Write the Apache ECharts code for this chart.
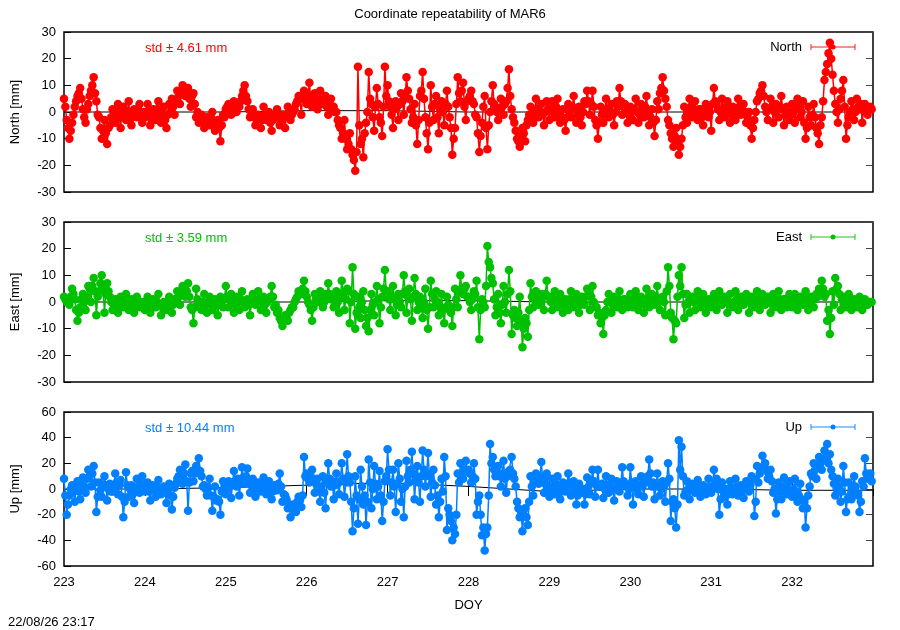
<!DOCTYPE html>
<html><head><meta charset="utf-8">
<script src="https://cdn.jsdelivr.net/npm/echarts@6/dist/echarts.min.js"></script>
<style>html,body{margin:0;padding:0;background:#fff}#c{width:900px;height:630px}</style>
</head><body><div id="c"></div><script>
// ---- data (mm). "A" samples at DOY 223 + i/30, "B" samples half a step later ----
const DAY_START = 223;
const SAMPLES_PER_DAY = 30;
const xTickLabels = ['223','224','225','226','227','228','229','230','231','232'];

const northValues = [
 5,-3,-10,-4,2,6,9,1,-4,3,8,13,4,-2,-10,-3,-12,-5,1,-4,3,-6,2,-3,4,-5,1,-2,3,-4,
 -2,3,-5,1,-3,4,-4,2,-6,3,5,-1,8,3,10,6,9,2,7,-2,-4,-1,-6,-2,-5,0,-7,-3,-11,-1,
 1,3,-1,4,0,2,6,10,4,-2,1,-5,-1,-6,2,-3,0,-7,-2,1,-5,-1,-6,2,-3,0,3,6,-1,8,
 3,11,2,7,1,8,3,6,-1,5,2,0,-5,-10,-3,-14,-8,-16,-22,17,-12,-17,-4,15,3,-7,9,-2,-9,17,
 10,2,-6,4,-3,7,-1,13,5,-4,3,-12,6,15,-2,-14,10,-3,6,-8,4,-5,8,-2,-16,-6,13,4,11,-3,
 5,8,3,-2,-15,-4,6,-14,0,10,2,-3,5,-1,4,16,1,-4,-10,-13,-6,-11,-3,2,-4,5,-2,3,-5,4,
 -3,4,-2,5,-4,1,-7,3,-2,6,-4,2,-5,4,8,-1,8,-3,-10,2,-4,5,-2,3,-5,4,9,-1,3,-4,
 2,-3,5,-4,3,-2,6,-5,1,-9,4,7,13,5,-3,-8,-13,-6,-16,-10,2,-4,5,-2,4,-3,1,-5,3,-2,
 -7,9,3,-3,5,-2,4,-4,2,-3,5,-1,3,-4,0,-10,-3,4,7,10,2,-3,5,-4,3,-2,6,-5,2,-3,
 3,-4,5,-2,4,-10,2,-5,3,-6,-12,-2,12,18,26,14,3,-4,5,12,-10,-2,4,-3,5,1,-4,3,-1,2
];
const northValuesB = [
 2,-6,-7,-1,4,7,5,-2,1,6,10,7,-1,-6,-7,-8,-6,-2,-1,0,-2,1,-1,0,-3,-1,0,1,-2,0,
 0,-1,-3,-1,1,-2,0,-3,-1,0,2,4,6,7,8,7,5,6,3,0,-2,-3,-4,-3,-2,-5,-4,-6,-5,-2,
 2,1,2,0,3,4,8,6,1,-1,-2,-3,-2,-3,-1,-2,-4,-3,-1,-2,-3,-2,-1,0,-1,1,4,5,6,5,
 6,5,4,5,4,3,5,2,3,1,0,-3,-6,-8,-10,-12,-14,-18,-15,-5,-10,-8,0,5,-2,2,3,-4,2,6,
 4,-1,1,2,3,4,6,8,1,-2,-5,-3,8,5,-8,-4,2,3,-2,1,0,3,2,-6,-10,3,7,8,2,4,
 6,4,-1,-8,-9,2,-6,-5,4,3,0,1,2,3,9,6,-2,-7,-11,-9,-8,-5,-1,-2,0,1,0,-1,0,1,
 1,0,2,-1,-2,-3,-2,0,2,1,-1,-2,0,3,4,3,2,-5,-4,-1,0,1,0,-1,0,2,4,3,0,-1,
 0,1,0,-1,1,2,0,-2,-4,-3,1,9,8,2,-5,-10,-9,-12,-13,-5,-2,0,2,1,0,1,-2,0,1,0,
 3,4,1,0,1,2,0,-1,0,1,2,1,0,-2,-5,-6,0,5,8,6,0,1,2,0,1,2,1,-1,0,-1,
 0,1,2,0,-4,-6,-2,-1,-2,-8,-5,4,15,22,20,8,0,1,8,2,-5,0,1,0,2,3,1,0,1,1
];
const eastValues = [
 2,0,-1,5,1,-7,-2,3,-3,6,0,9,-5,4,10,-4,7,2,-3,1,-4,2,-2,3,-3,1,-4,2,-2,0,
 -3,2,-4,1,-2,3,-5,0,-3,2,-4,1,4,-1,6,2,7,-2,-8,5,0,-3,3,-4,2,-3,1,-5,2,-2,
 6,-2,3,-4,2,-3,4,-2,1,-5,3,-1,4,-3,2,-4,1,6,-2,-4,-6,-9,-5,-7,-3,-2,1,4,3,8,
 2,-1,-7,3,0,4,-2,3,7,1,-2,4,-4,8,-3,5,-8,13,-10,2,-6,4,-9,-11,3,-5,6,-8,2,12,
 4,-3,6,-5,3,-2,10,-4,5,-7,9,-3,2,-6,5,-10,8,-2,4,-5,3,-8,2,-3,-9,5,-2,10,3,6,
 2,-3,4,8,-14,1,-2,21,13,7,-5,3,-8,6,-4,12,-12,-3,-9,2,-17,-6,-13,7,-2,4,-1,3,-3,8,
 2,-3,4,-2,3,-4,1,-3,4,-2,3,-4,2,-1,5,-3,6,-2,-5,-8,-12,-3,3,-4,2,-2,4,-3,1,-2,
 3,-2,4,-3,2,-4,5,-2,3,-1,6,-3,2,-5,13,-4,-14,-8,10,13,-6,3,-4,2,-3,4,-2,3,-4,1,
 -2,3,-3,4,-1,2,-4,3,-2,4,-3,2,-1,3,-4,2,-2,4,-3,3,-1,2,-4,3,-2,4,-3,1,-2,3,
 -2,3,-3,2,-1,4,-3,2,-2,3,5,8,2,-7,-12,4,9,6,-3,2,-2,3,-3,1,-2,2,-3,1,-1,0
];
const eastValuesB = [
 1,1,2,3,-3,-4,1,0,2,5,6,4,2,7,5,3,4,0,-1,-1,-1,0,0,-1,0,-1,-1,0,-1,-1,
 -1,-1,0,-1,0,-1,-2,-1,0,-1,-1,1,2,3,4,4,2,-3,-2,1,0,0,-1,0,-1,0,-1,0,0,1,
 2,1,0,-1,0,1,0,-1,-1,0,1,0,1,0,-1,0,2,2,-1,-3,-7,-7,-6,-4,-2,0,2,3,5,4,
 0,-3,-2,1,2,1,0,2,3,1,1,0,2,3,1,4,0,3,-4,-2,0,-3,-6,-3,-1,0,1,-2,5,4,
 1,2,1,-1,0,3,4,2,1,2,3,0,-2,0,-3,-2,3,1,0,-2,-3,-2,-1,-4,-2,1,4,5,5,2,
 0,1,3,-2,-3,0,6,15,9,1,-2,-4,-1,0,3,4,-5,-6,-4,-7,-10,-8,-3,2,1,1,0,2,3,2,
 0,1,0,1,0,-1,0,1,0,1,0,-1,0,2,3,2,0,-2,-4,-6,-5,0,0,-1,0,1,0,1,0,0,
 0,1,0,-1,1,0,1,2,1,2,0,1,0,4,6,-6,-7,2,6,3,-1,0,1,0,1,0,1,0,-1,0,
 0,1,0,1,0,1,0,-1,0,1,0,1,0,1,0,1,0,1,0,1,0,1,0,1,0,1,0,1,0,1,
 0,1,0,1,0,1,0,1,1,2,4,5,3,-3,-6,-1,5,3,1,0,0,1,0,-1,0,1,0,-1,0,0
];
const upValues = [
 8,-20,-5,3,-10,6,-8,9,-3,15,2,18,-18,5,-6,10,-9,4,-2,12,-4,7,-22,13,-6,3,-11,8,-3,10,
 -2,5,-9,3,-6,7,-4,2,-11,4,-16,1,8,15,4,19,-17,12,6,18,24,10,3,-5,8,-17,2,-8,-20,6,
 -4,6,-7,14,2,-5,17,4,16,-3,8,-6,5,-2,9,-4,6,-8,3,-1,12,-10,-5,-15,-22,-12,-18,-6,-14,25,
 12,5,15,-3,8,-10,10,-15,20,2,-8,12,-4,20,-6,27,5,-33,10,-27,15,-12,-28,23,-15,18,-8,14,-25,6,
 31,-5,15,-18,20,-10,-22,22,5,29,-8,18,-10,30,2,28,-6,15,-12,-22,8,25,-32,-20,-40,-35,12,20,8,22,
 15,5,20,-20,-5,-36,-48,-30,35,25,10,18,2,22,-3,14,25,8,-10,-22,-33,-15,-28,10,-5,12,4,21,-3,12,
 -6,8,-4,10,-8,5,-2,12,-5,6,-12,4,-3,-12,9,-4,15,-6,15,2,-7,10,-3,8,-9,6,-2,17,4,-5,
 17,-12,6,-4,10,-6,8,23,2,-8,12,-5,6,-10,20,-25,-8,-30,38,33,-5,6,-8,4,-3,7,-6,3,-4,8,
 -3,15,8,-20,5,-6,-12,6,-4,8,-5,3,-7,6,-2,10,-21,18,12,26,20,8,15,-3,-19,5,-8,9,-4,6,
 -6,8,-10,4,-15,-30,-5,12,20,8,25,15,30,35,27,10,-5,8,-10,18,-18,5,-8,10,-3,-18,6,24,8,12
];
const upValuesB = [
 -5,-12,0,-2,2,-2,3,2,8,10,12,5,-6,-1,2,3,0,-2,2,5,3,-6,-10,3,0,-4,-2,2,4,3,
 1,-2,0,-1,1,0,-2,-3,-1,-5,-6,4,10,8,12,6,5,14,12,15,14,2,0,1,-5,-6,-9,-10,-2,2,
 0,2,5,6,8,4,9,10,6,3,1,2,0,3,2,1,0,-2,1,4,2,-4,-8,-12,-15,-16,-10,-9,-5,10,
 8,10,6,4,-2,2,-3,5,8,6,3,4,6,8,5,10,-10,-15,-5,-8,2,-5,-10,5,0,4,2,-5,-10,10,
 15,5,2,4,8,0,2,10,15,12,8,5,10,15,12,10,5,3,-5,-10,-2,10,-15,-25,-30,-20,5,10,15,14,
 12,10,8,-10,-20,-30,-35,-5,20,15,12,10,12,8,10,15,12,2,-15,-18,-20,-22,-10,2,5,8,10,8,4,2,
 0,2,3,0,-2,0,3,5,2,0,-5,-2,0,-4,2,5,6,3,2,4,0,3,2,1,0,2,4,6,2,0,
 5,2,0,3,2,5,10,12,5,2,3,0,2,5,8,-10,-15,-12,15,10,-2,0,1,-1,2,0,1,-1,0,1,
 2,5,0,-8,-2,0,-4,1,0,2,0,-1,0,2,3,8,-10,5,15,18,14,10,6,0,-8,-2,0,2,0,-1,
 0,-2,-5,-8,-10,-15,2,10,15,18,20,22,25,20,15,4,0,2,-2,5,-8,-5,0,2,-5,-10,2,12,10,6
];
// black reference (mean) line
const refDays  = [223,224,225,226,227,228,229,230,231,232,233];
const northRef = [0,0,0,0.5,0.5,0,0,0,0,0,0];
const eastRef  = [0,0,0,0,0.5,0.5,0,0,0,0,0];
const upRef    = [0,0,1,3,5,2,-2,0,0,-1,-1];

const panelNames = ['North','East','Up'];
const stdTexts = ['std \u00b1 4.61 mm','std \u00b1 3.59 mm','std \u00b1 10.44 mm'];
const yRanges = [[-30,30,10],[-30,30,10],[-60,60,20]];
// ---------------------------------------------------------------

const FONT = '"Liberation Sans", Arial, Helvetica, sans-serif';
const colors = ['#ff0000','#00c000','#0080ff'];
const lightColors = ['rgba(255,0,0,0.6)','rgba(0,192,0,0.6)','rgba(0,128,255,0.6)'];
const grids = [
  {left:64, top:32, width:809, height:160},
  {left:64, top:222, width:809, height:160},
  {left:64, top:412, width:809, height:154}
];
const allA = [northValues, eastValues, upValues];
const allB = [northValuesB, eastValuesB, upValuesB];
const allRefs = [northRef, eastRef, upRef];

function toPairs(a, b){
  const out = [];
  const step = 1/SAMPLES_PER_DAY;
  for (let i=0;i<a.length;i++){
    out.push([DAY_START + i*step, a[i]]);
    out.push([DAY_START + (i+0.5)*step, b[i]]);
  }
  return out;
}

const option = {
  animation:false,
  backgroundColor:'#fff',
  textStyle:{fontFamily:FONT},
  title:{text:'Coordinate repeatability of MAR6', left:'center', top:3,
    textStyle:{fontSize:13, fontWeight:'normal', color:'#000', fontFamily:FONT}},
  grid: grids.map(g=>Object.assign({show:true, borderColor:'#000', borderWidth:1.5, backgroundColor:'transparent'}, g)),
  xAxis: [],
  yAxis: [],
  series: [],
  graphic: []
};

for (let k=0;k<3;k++){
  option.xAxis.push({
    gridIndex:k, type:'value', min:223, max:233, interval:1,
    axisLine:{show:false},
    axisTick:{show:k===2, inside:true, length:7, lineStyle:{color:'#000'}},
    axisLabel:{show:k===2, showMaxLabel:false, fontSize:13, color:'#000', margin:10, fontFamily:FONT,
      formatter:(v)=>{const i=Math.round(v-223); return xTickLabels[i]!==undefined?xTickLabels[i]:'';}},
    splitLine:{show:false},
    name:k===2?'DOY':'', nameLocation:'middle', nameGap:33,
    nameTextStyle:{fontSize:13, color:'#000', fontFamily:FONT}
  });
}
option.xAxis.push({
  gridIndex:2, type:'value', position:'top', min:223, max:233, interval:1,
  axisLine:{show:false}, axisTick:{show:true, inside:true, length:7, lineStyle:{color:'#000'}},
  axisLabel:{show:false}, splitLine:{show:false}
});

for (let k=0;k<3;k++){
  const [mn,mx,iv] = yRanges[k];
  option.yAxis.push({
    gridIndex:k, type:'value', min:mn, max:mx, interval:iv,
    axisLine:{show:false},
    axisTick:{show:true, inside:true, length:7, lineStyle:{color:'#000'}},
    axisLabel:{fontSize:13, color:'#000', margin:8, fontFamily:FONT},
    splitLine:{show:false},
    name:panelNames[k]+' [mm]', nameLocation:'middle', nameGap:42, nameRotate:90,
    nameTextStyle:{fontSize:13, color:'#000', fontFamily:FONT}
  });
  option.yAxis.push({
    gridIndex:k, type:'value', position:'right', min:mn, max:mx, interval:iv,
    axisLine:{show:false},
    axisTick:{show:true, inside:true, length:7, lineStyle:{color:'#444'}},
    axisLabel:{show:false}, splitLine:{show:false}
  });

  option.series.push({
    type:'line', xAxisIndex:k, yAxisIndex:2*k, z:1,
    data: refDays.map((d,i)=>[d, allRefs[k][i]]),
    symbol:'none', lineStyle:{color:'#000', width:1}, silent:true
  });
  option.series.push({
    type:'line', xAxisIndex:k, yAxisIndex:2*k, z:2,
    data: toPairs(allA[k], allB[k]),
    symbol:'circle', symbolSize:8.5, showAllSymbol:true,
    itemStyle:{color:colors[k]},
    lineStyle:{color:colors[k], width:1.5},
    sampling:null, silent:true
  });

  const g = grids[k];
  const ly = g.top + 15;
  option.graphic.push(
    {type:'text', left:145, top:g.top+10, style:{text:stdTexts[k], fill:colors[k], font:'13px '+FONT}},
    {type:'text', x:802, y:ly, style:{text:panelNames[k], fill:'#000', font:'13px '+FONT, textAlign:'right', textVerticalAlign:'middle'}},
    {type:'line', shape:{x1:811, y1:ly, x2:855, y2:ly}, style:{stroke:lightColors[k], lineWidth:1.5}},
    {type:'line', shape:{x1:811, y1:ly-3, x2:811, y2:ly+3}, style:{stroke:lightColors[k], lineWidth:1.5}},
    {type:'line', shape:{x1:855, y1:ly-3, x2:855, y2:ly+3}, style:{stroke:lightColors[k], lineWidth:1.5}},
    {type:'circle', shape:{cx:833, cy:ly, r:2.5}, style:{fill:colors[k]}}
  );
}
option.graphic.push({type:'text', left:8, top:616, style:{text:'22/08/26 23:17', fill:'#000', font:'13px '+FONT}});

const chart = echarts.init(document.getElementById('c'), null, {renderer:'canvas'});
chart.setOption(option);
</script></body></html>
